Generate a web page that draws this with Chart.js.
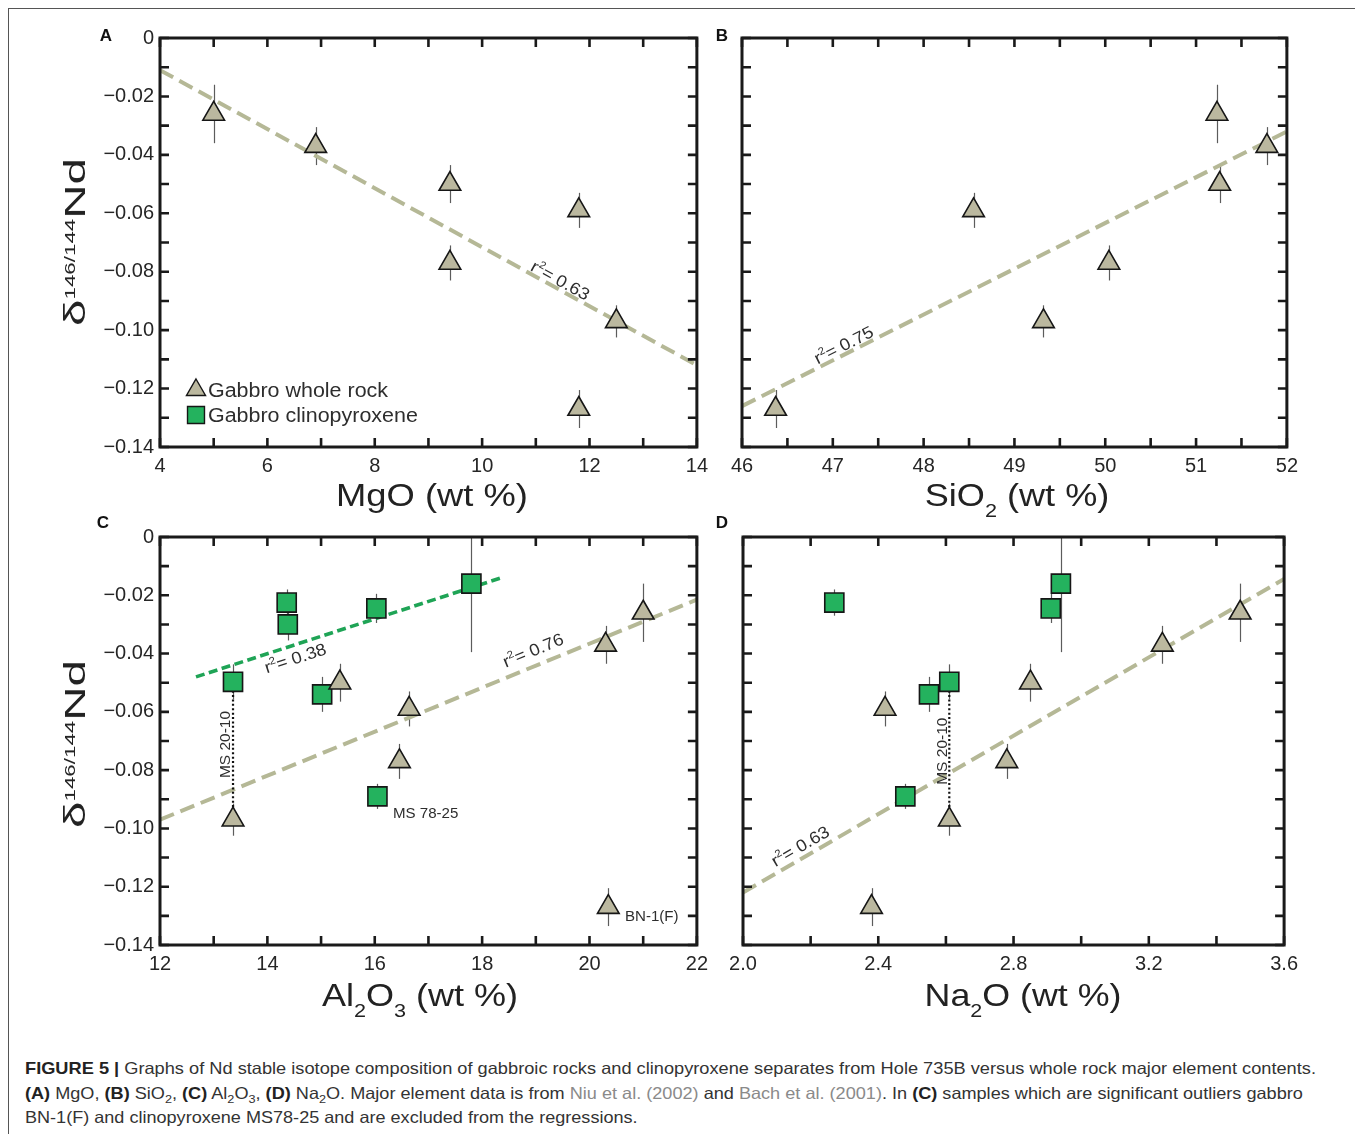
<!DOCTYPE html>
<html>
<head>
<meta charset="utf-8">
<title>Figure 5</title>
<script src="https://cdn.jsdelivr.net/npm/chart.js@4.4.1/dist/chart.umd.min.js"></script>
<style>
  html, body { margin: 0; padding: 0; background: #fff; }
  body { position: relative; width: 1355px; height: 1134px; overflow: hidden; font-family: "Liberation Sans", Arial, sans-serif; color: #222; }
  .frame { position: absolute; left: 8px; top: 8px; width: 1360px; height: 1140px; border-left: 1.5px solid #555; border-top: 1.5px solid #555; }
  canvas { position: absolute; }
  .tag { position: absolute; font-weight: bold; font-size: 17px; color: #111; transform: translate(-50%, -50%); }
  .xt, .yt { position: absolute; white-space: nowrap; line-height: 1; color: #222; transform: translate(-50%, -50%); }
  .xt { font-size: 32px; }
  .xt sub { font-size: 0.6em; vertical-align: -11px; line-height: 0; }
  .yt { font-size: 30px; }
  .yt sup { font-size: 0.47em; vertical-align: 10px; line-height: 0; }
  .cap { position: absolute; left: 25px; top: 1056px; font-size: 16.5px; line-height: 24.6px; color: #333; white-space: nowrap; }
  .cap div { transform-origin: 0 50%; width: max-content; }
  .cap b { color: #222; }
  .cap sub { font-size: 0.7em; line-height: 0; }
  .cap .ref { color: #8a8a8a; }
</style>
</head>
<body>
<div class="frame"></div>

<canvas id="panelA" width="695" height="500" style="left:20px;top:20px"></canvas>
<canvas id="panelB" width="590" height="500" style="left:715px;top:20px"></canvas>
<canvas id="panelC" width="695" height="500" style="left:20px;top:517px"></canvas>
<canvas id="panelD" width="590" height="500" style="left:715px;top:517px"></canvas>

<div class="tag" style="left:106px;top:36px">A</div>
<div class="tag" style="left:722px;top:36px">B</div>
<div class="tag" style="left:103px;top:523px">C</div>
<div class="tag" style="left:722px;top:523px">D</div>

<div class="xt" data-w="192" style="left:432px;top:495px">MgO (wt %)</div>
<div class="xt" data-w="185" style="left:1017px;top:495px">SiO<sub>2</sub> (wt %)</div>
<div class="xt" data-w="196" style="left:420px;top:995px">Al<sub>2</sub>O<sub>3</sub> (wt %)</div>
<div class="xt" data-w="197" style="left:1023px;top:995px">Na<sub>2</sub>O (wt %)</div>
<div class="yt" data-w="168" data-rot="1" style="left:75px;top:242px">δ<sup>146/144</sup>Nd</div>
<div class="yt" data-w="168" data-rot="1" style="left:75px;top:744px">δ<sup>146/144</sup>Nd</div>

<div class="cap">
  <div data-l="1291"><b>FIGURE 5 |</b> Graphs of Nd stable isotope composition of gabbroic rocks and clinopyroxene separates from Hole 735B versus whole rock major element contents.</div>
  <div data-l="1278"><b>(A)</b> MgO, <b>(B)</b> SiO<sub>2</sub>, <b>(C)</b> Al<sub>2</sub>O<sub>3</sub>, <b>(D)</b> Na<sub>2</sub>O. Major element data is from <span class="ref">Niu et al. (2002)</span> and <span class="ref">Bach et al. (2001)</span>. In <b>(C)</b> samples which are significant outliers gabbro</div>
  <div data-l="612">BN-1(F) and clinopyroxene MS78-25 and are excluded from the regressions.</div>
</div>

<script>
"use strict";

//=> Data
// gabbro whole rock (triangles), same sample order in every panel
var wrNd    = [-0.026, -0.037, -0.050, -0.077, -0.059, -0.097, -0.127];
var wrNdErr = [0.010, 0.0065, 0.0065, 0.006, 0.006, 0.0055, 0.0065];
var wrMgO   = [5.0, 6.9, 9.4, 9.4, 11.8, 12.5, 11.8];
var wrSiO2  = [51.23, 51.78, 51.26, 50.04, 48.55, 49.32, 46.37];
var wrAl2O3 = [21.0, 20.3, 15.35, 16.46, 16.64, 13.36, 20.35];
var wrNa2O  = [3.47, 3.24, 2.85, 2.78, 2.42, 2.61, 2.38];

// gabbro clinopyroxene (squares), no Na2O for the third one
var cpxNd    = [-0.0497, -0.0225, -0.030, -0.0245, -0.054, -0.089, -0.016];
var cpxNdErr = [0.006, 0.0045, 0.0055, 0.005, 0.006, 0.0043, 0.0235];
var cpxAl2O3 = [13.36, 14.36, 14.38, 16.03, 15.02, 16.05, 17.8];
var cpxNa2O  = [2.61, 2.27, null, 2.91, 2.55, 2.48, 2.94];

// MS 20-10: clinopyroxene and its whole rock
var pairCpx = 0, pairWr = 5;

// regression lines, end points
var fitMgOX   = [4, 14],        fitMgOY   = [-0.011, -0.112];
var fitSiO2X  = [46, 52],       fitSiO2Y  = [-0.126, -0.032];
var fitAlWrX  = [12, 22],       fitAlWrY  = [-0.097, -0.0215];
var fitAlCpxX = [12.67, 18.39], fitAlCpxY = [-0.048, -0.0138];
var fitNaX    = [2.0, 3.6],     fitNaY    = [-0.122, -0.0144];
var r2 = { mgo: '0.63', sio2: '0.75', alWr: '0.76', alCpx: '0.38', na: '0.63' };

// tick labels
var ndLabels  = [0, -0.02, -0.04, -0.06, -0.08, -0.10, -0.12, -0.14];
var mgoLabels = [4, 6, 8, 10, 12, 14];
var sioLabels = [46, 47, 48, 49, 50, 51, 52];
var alLabels  = [12, 14, 16, 18, 20, 22];
var naLabels  = [2.0, 2.4, 2.8, 3.2, 3.6];

//=> Styles
var FONT = '"Liberation Sans", Arial, sans-serif';
var TRI_FILL = '#bbb89f', CPX_FILL = '#24b25e', WR_LINE = '#b5b896', CPX_LINE = '#1fa456';
Chart.defaults.font.family = FONT;

//=> Helpers
function points(xs, ys, errs) {
    var out = [];
    for (var i = 0; i < xs.length; i++) {
        if (xs[i] === null) continue;
        out.push({ x: xs[i], y: ys[i], e: errs[i] });
    }
    return out;
}

function wrSet(xs) {
    return { label: 'Gabbro whole rock', data: points(xs, wrNd, wrNdErr), pointStyle: 'triangle',
             pointRadius: 12.5, backgroundColor: TRI_FILL, borderColor: '#161616', borderWidth: 1.6 };
}

function cpxSet(xs) {
    return { label: 'Gabbro clinopyroxene', data: xs ? points(xs, cpxNd, cpxNdErr) : [], pointStyle: 'rect',
             pointRadius: 13.5, backgroundColor: CPX_FILL, borderColor: '#161616', borderWidth: 1.6 };
}

function lineSet(xs, ys, color, width, dash) {
    return { label: '', data: [{ x: xs[0], y: ys[0] }, { x: xs[1], y: ys[1] }], showLine: true,
             pointRadius: 0, borderColor: color, borderWidth: width, borderDash: dash, fill: false };
}

function tieSet(xs, xsWr) {
    return lineSet([xs[pairCpx], xsWr[pairWr]], [cpxNd[pairCpx], wrNd[pairWr]], '#111', 2.2, [2, 2.4]);
}

function tickList(min, max, step) {
    var out = [], n = Math.round((max - min) / step);
    for (var i = 0; i <= n; i++) out.push({ value: +(min + i * step).toFixed(6) });
    return out;
}

var fmtNd  = function (v) { return Math.abs(v) < 1e-9 ? '0' : '\u2212' + Math.abs(v).toFixed(2); };
var fmtInt = function (v) { return String(Math.round(v)); };
var fmtOne = function (v) { return v.toFixed(1); };

function axis(min, max, step, labels, fmt, o) {
    return {
        type: 'linear', min: min, max: max,
        grid: { display: false, drawTicks: false },
        border: { display: false },
        afterBuildTicks: function (s) { s.ticks = tickList(min, max, step); },
        ticks: {
            display: o.show !== false, autoSkip: false, maxRotation: 0, minRotation: 0,
            padding: o.pad, color: '#262626', font: { family: FONT, size: 20 },
            callback: function (v) {
                for (var i = 0; i < labels.length; i++) if (Math.abs(labels[i] - v) < 1e-9) return fmt(v);
                return '';
            }
        },
        afterFit: function (s) { if (s.isHorizontal()) s.height = o.size; else s.width = o.size; }
    };
}

//=> Per panel decorations (annotations, legend)
var panelNotes = {
    panelA: [{ kind: 'r2', value: r2.mgo, x: 11.46, y: -0.0829, fx: fitMgOX, fy: fitMgOY }],
    panelB: [{ kind: 'r2', value: r2.sio2, x: 47.12, y: -0.1050, fx: fitSiO2X, fy: fitSiO2Y }],
    panelC: [
        { kind: 'r2', value: r2.alWr, x: 18.95, y: -0.0388, fx: fitAlWrX, fy: fitAlWrY },
        { kind: 'r2', value: r2.alCpx, x: 14.52, y: -0.0415, fx: fitAlCpxX, fy: fitAlCpxY },
        { kind: 'vert', text: 'MS 20-10', x: 13.21, y: -0.0712 },
        { kind: 'text', text: 'MS 78-25', x: 16.34, y: -0.0947 },
        { kind: 'text', text: 'BN-1(F)', x: 20.66, y: -0.1300 }
    ],
    panelD: [
        { kind: 'r2', value: r2.na, x: 2.169, y: -0.106, fx: fitNaX, fy: fitNaY },
        { kind: 'vert', text: 'MS 20-10', x: 2.588, y: -0.0735 }
    ]
};
var panelLegend = { panelA: { dx: 36, dy: -57, step: 25, textDx: 48 } };

function wideText(ctx, txt, x, y, size, sx) {
    ctx.save();
    ctx.translate(x, y);
    ctx.scale(sx, 1);
    ctx.font = size + 'px ' + FONT;
    ctx.fillText(txt, 0, 0);
    ctx.restore();
}

var deco = {
    id: 'deco',
    beforeDatasetsDraw: function (chart) {
        // error bars
        var ctx = chart.ctx, ys = chart.scales.y, a = chart.chartArea;
        ctx.save();
        ctx.beginPath();
        ctx.rect(a.left, a.top, a.right - a.left, a.bottom - a.top);
        ctx.clip();
        ctx.strokeStyle = '#5c5c5c';
        ctx.lineWidth = 1.2;
        chart.data.datasets.forEach(function (ds, i) {
            var meta = chart.getDatasetMeta(i);
            ds.data.forEach(function (p, j) {
                if (p.e === undefined) return;
                var x = Math.round(meta.data[j].x) + 0.5;
                ctx.beginPath();
                ctx.moveTo(x, ys.getPixelForValue(p.y + p.e));
                ctx.lineTo(x, ys.getPixelForValue(p.y - p.e));
                ctx.stroke();
            });
        });
        ctx.restore();
    },
    afterDatasetsDraw: function (chart) {
        var ctx = chart.ctx, xs = chart.scales.x, ys = chart.scales.y;
        var notes = panelNotes[chart.canvas.id] || [];
        ctx.save();
        ctx.fillStyle = '#2e2e2e';
        ctx.textBaseline = 'alphabetic';
        notes.forEach(function (n) {
            var px = xs.getPixelForValue(n.x), py = ys.getPixelForValue(n.y);
            if (n.kind === 'r2') {
                var ang = Math.atan2(ys.getPixelForValue(n.fy[1]) - ys.getPixelForValue(n.fy[0]),
                                     xs.getPixelForValue(n.fx[1]) - xs.getPixelForValue(n.fx[0]));
                ctx.save();
                ctx.translate(px, py);
                ctx.rotate(ang);
                ctx.scale(1.08, 1);
                ctx.font = '17px ' + FONT;
                var w1 = ctx.measureText('r').width, w3 = ctx.measureText('= ' + n.value).width;
                ctx.font = '10.5px ' + FONT;
                var w2 = ctx.measureText('2').width;
                var x0 = -(w1 + w2 + w3) / 2;
                ctx.font = '17px ' + FONT;
                ctx.fillText('r', x0, 6);
                ctx.fillText('= ' + n.value, x0 + w1 + w2, 6);
                ctx.font = '10.5px ' + FONT;
                ctx.fillText('2', x0 + w1, -1);
                ctx.restore();
            } else if (n.kind === 'vert') {
                ctx.save();
                ctx.translate(px, py);
                ctx.rotate(-Math.PI / 2);
                ctx.textAlign = 'center';
                ctx.font = '15.5px ' + FONT;
                ctx.fillText(n.text, 0, 5.5);
                ctx.restore();
            } else {
                ctx.textAlign = 'left';
                wideText(ctx, n.text, px, py + 5, 14.5, 1.04);
            }
        });
        ctx.restore();
    },
    afterDraw: function (chart) {
        var ctx = chart.ctx, xs = chart.scales.x, ys = chart.scales.y, a = chart.chartArea;
        var L = 9;
        ctx.save();
        ctx.strokeStyle = '#1a1a1a';
        ctx.lineWidth = 2.6;
        ctx.beginPath();
        xs.ticks.forEach(function (t) {
            var px = xs.getPixelForValue(t.value);
            ctx.moveTo(px, a.bottom); ctx.lineTo(px, a.bottom - L);
            ctx.moveTo(px, a.top); ctx.lineTo(px, a.top + L);
        });
        ys.ticks.forEach(function (t) {
            var py = ys.getPixelForValue(t.value);
            ctx.moveTo(a.left, py); ctx.lineTo(a.left + L, py);
            ctx.moveTo(a.right, py); ctx.lineTo(a.right - L, py);
        });
        ctx.stroke();
        ctx.lineWidth = 3;
        ctx.strokeRect(a.left, a.top, a.right - a.left, a.bottom - a.top);

        // legend, drawn from the dataset styles
        var lg = panelLegend[chart.canvas.id];
        if (lg) {
            var k = 0;
            chart.data.datasets.forEach(function (ds) {
                if (!ds.label || !ds.pointStyle) return;
                var cx = a.left + lg.dx, cy = a.bottom + lg.dy + k * lg.step;
                ctx.fillStyle = ds.backgroundColor;
                ctx.strokeStyle = ds.borderColor;
                ctx.lineWidth = 1.4;
                Chart.helpers.drawPoint(ctx, { pointStyle: ds.pointStyle, radius: ds.pointStyle === 'rect' ? 12 : 11,
                                               rotation: 0, borderWidth: 1.4 }, cx, cy);
                ctx.fillStyle = '#2e2e2e';
                ctx.textAlign = 'left';
                wideText(ctx, ds.label, a.left + lg.textDx, cy + 7, 19.5, 1.1);
                k++;
            });
        }
        ctx.restore();
    }
};

//=> Panels
function makePanel(id, datasets, xAxis, yAxis, pad) {
    return new Chart(document.getElementById(id), {
        type: 'scatter',
        data: { datasets: datasets },
        options: {
            responsive: false, animation: false, devicePixelRatio: 1, events: [],
            layout: { padding: pad },
            plugins: { legend: { display: false }, tooltip: { enabled: false } },
            scales: { x: xAxis, y: yAxis }
        },
        plugins: [deco]
    });
}

var ndAxisShown  = function (size) { return axis(-0.14, 0, 0.01, ndLabels, fmtNd, { pad: 6, size: size }); };
var ndAxisHidden = function (size) { return axis(-0.14, 0, 0.01, ndLabels, fmtNd, { show: false, pad: 0, size: size }); };

makePanel('panelA',
    [wrSet(wrMgO), cpxSet(null), lineSet(fitMgOX, fitMgOY, WR_LINE, 4, [15, 7])],
    axis(4, 14, 1, mgoLabels, fmtInt, { pad: 7, size: 73 }),
    ndAxisShown(140),
    { left: 0, top: 18, right: 12, bottom: 0 });

makePanel('panelB',
    [wrSet(wrSiO2), lineSet(fitSiO2X, fitSiO2Y, WR_LINE, 4, [15, 7])],
    axis(46, 52, 0.5, sioLabels, fmtInt, { pad: 7, size: 73 }),
    ndAxisHidden(27),
    { left: 0, top: 18, right: 18, bottom: 0 });

makePanel('panelC',
    [wrSet(wrAl2O3), cpxSet(cpxAl2O3), tieSet(cpxAl2O3, wrAl2O3),
     lineSet(fitAlCpxX, fitAlCpxY, CPX_LINE, 3.6, [9, 4.5]),
     lineSet(fitAlWrX, fitAlWrY, WR_LINE, 4, [15, 7])],
    axis(12, 22, 1, alLabels, fmtInt, { pad: 7, size: 72 }),
    ndAxisShown(140),
    { left: 0, top: 20, right: 12, bottom: 0 });

makePanel('panelD',
    [wrSet(wrNa2O), cpxSet(cpxNa2O), tieSet(cpxNa2O, wrNa2O),
     lineSet(fitNaX, fitNaY, WR_LINE, 4, [15, 7])],
    axis(2.0, 3.6, 0.2, naLabels, fmtOne, { pad: 7, size: 72 }),
    ndAxisHidden(28),
    { left: 0, top: 20, right: 18, bottom: 0 });

//=> Titles and caption widths
document.querySelectorAll('[data-w]').forEach(function (el) {
    var k = +el.dataset.w / el.offsetWidth;
    var rot = el.dataset.rot ? ' rotate(-90deg)' : '';
    el.style.transform = 'translate(-50%,-50%)' + rot + ' scaleX(' + k.toFixed(3) + ')';
});
document.querySelectorAll('[data-l]').forEach(function (el) {
    var k = +el.dataset.l / el.offsetWidth;
    el.style.transform = 'scaleX(' + k.toFixed(3) + ')';
});
</script>
</body>
</html>
